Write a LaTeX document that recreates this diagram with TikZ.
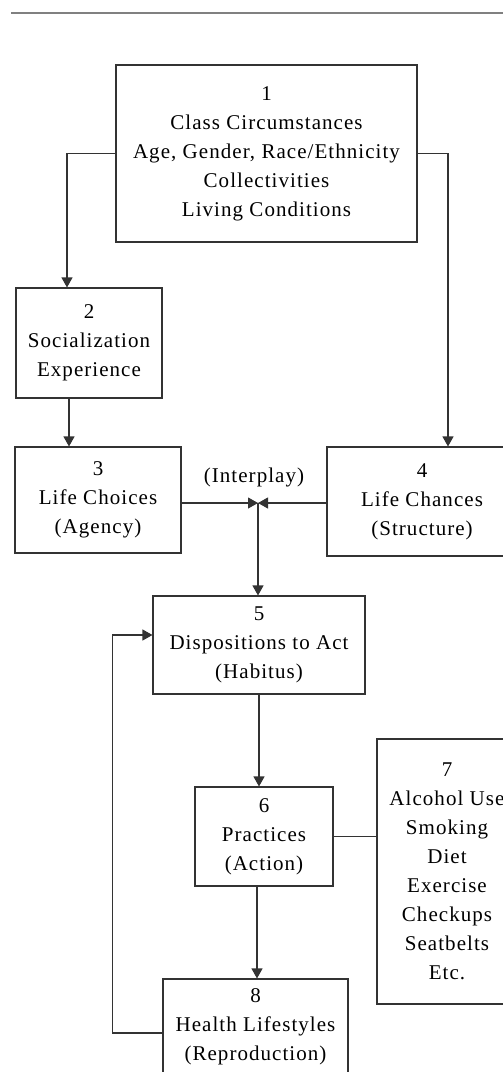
\documentclass[tikz,border=0pt]{standalone}
\usepackage{fontspec}
\setmainfont{Liberation Serif}[LetterSpace=5]
\usetikzlibrary{arrows.meta,calc}

\tikzset{
  box/.style={draw=black!80, line width=1.1pt, rectangle, align=center, inner sep=0pt,
    font=\fontsize{21}{29}\selectfont},
  link/.style={draw=black!80, line width=1.1pt},
  arr/.style={link, -{Triangle[length=10pt,width=11pt]}}
}

\begin{document}
\begin{tikzpicture}[x=1pt,y=1pt,yscale=-1,xscale=1]
		\clip (0,0) rectangle (503,1072);

		\draw [gray, line width=2pt] (11,12.5) -- (503,12.5);

		\node [box, minimum width=301pt, minimum height=177pt] (b1) at (266.5,153.5) {1\\Class Circumstances\\Age, Gender, Race/Ethnicity\\Collectivities\\Living Conditions};
		\node [box, minimum width=146pt, minimum height=110pt] (b2) at (89,343) {2\\Socialization\\Experience};
		\node [box, minimum width=166pt, minimum height=106pt] (b3) at (98,500) {3\\Life Choices\\(Agency)};
		\node [box, minimum width=190pt, minimum height=109pt] (b4) at (422,501.5) {4\\Life Chances\\(Structure)};
		\node [box, minimum width=212pt, minimum height=98pt] (b5) at (259,645) {5\\Dispositions to Act\\(Habitus)};
		\node [box, minimum width=138pt, minimum height=99pt] (b6) at (264,836.5) {6\\Practices\\(Action)};
		\node [box, minimum width=140pt, minimum height=265pt] (b7) at (447,871.5) {7\\Alcohol Use\\Smoking\\Diet\\Exercise\\Checkups\\Seatbelts\\Etc.};
		\node [box, minimum width=185pt, minimum height=96pt] (b8) at (255.5,1027) {8\\Health Lifestyles\\(Reproduction)};

		\coordinate (ip) at (258,503);
		\node [font=\fontsize{21}{29}\selectfont] (iplabel) at (254,477) {(Interplay)};

		\draw [arr] (b1.west) -| ([xshift=-22pt]b2.north);
		\draw [arr] (b1.east) -| ([xshift=26pt]b4.north);
		\draw [arr] ([xshift=-20pt]b2.south) -- ([xshift=-20pt]b2.south |- b3.north);

		\draw [arr] (b3.east |- ip) -- (ip);
		\draw [arr] (b4.west |- ip) -- (ip);
		\draw [arr] (ip) -- (ip |- b5.north);

		\draw [arr] (b5.south) -- (b5.south |- b6.north);
		\draw [link] (b6.east) -- (b6.east -| b7.west);
		\draw [arr] ([xshift=-7pt]b6.south) -- ([xshift=-7pt]b6.south |- b8.north);

		% back to dispositions
		\draw [arr] ([yshift=6pt]b8.west) -- ++(-50,0) |- ([yshift=-10pt]b5.west);
\end{tikzpicture}
\end{document}
